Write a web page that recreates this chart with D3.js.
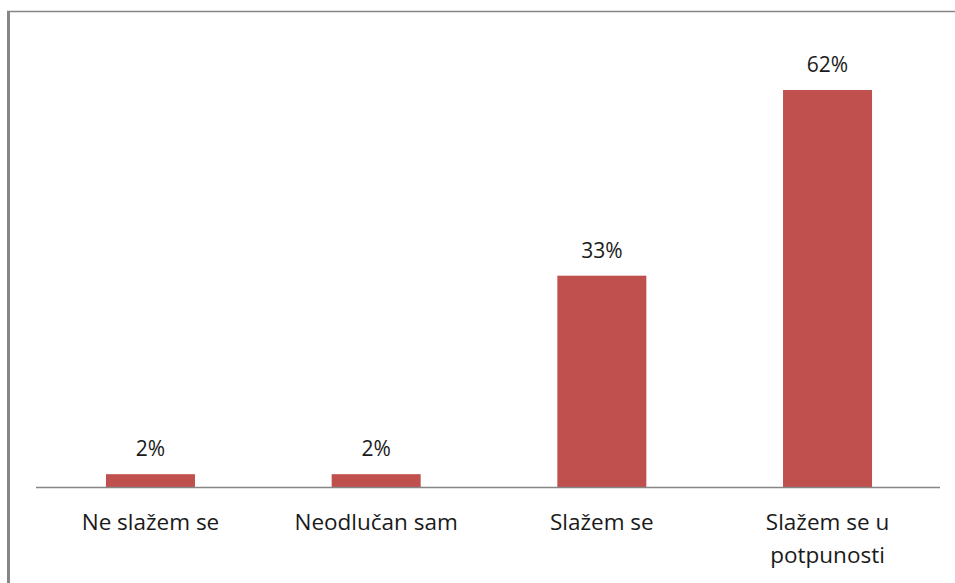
<!DOCTYPE html>
<html>
<head>
<meta charset="utf-8">
<script src="https://cdn.jsdelivr.net/npm/d3@7"></script>
<style>
  body { margin: 0; background: #fff; }
  text { font-family: "Open Sans", Lato, sans-serif; fill: #1a1a1a; }
</style>
</head>
<body>
<svg id="chart"></svg>
<script>
// Data
const categories = ["Ne slažem se", "Neodlučan sam", "Slažem se", "Slažem se u potpunosti"];
const values = [2, 2, 33, 62];
const valueLabels = ["2%", "2%", "33%", "62%"];

const W = 955, H = 583;
const margin = { top: 11, right: 15, bottom: 96, left: 36 };

const root = d3.select("#chart").attr("width", W).attr("height", H);

// outer frame (top + left only visible)
root.append("line").attr("x1", 7).attr("x2", W).attr("y1", 11.5).attr("y2", 11.5)
  .attr("stroke", "#868686").attr("stroke-width", 1.5);
root.append("line").attr("x1", 8.5).attr("x2", 8.5).attr("y1", 11).attr("y2", H)
  .attr("stroke", "#868686").attr("stroke-width", 3);

const svg = root.append("g").attr("transform", `translate(${margin.left},${margin.top})`);

const x = d3.scaleBand().domain(categories).range([0, 906]).paddingInner(0.6056).paddingOuter(0.31);
const y = d3.scaleLinear().domain([0, 62]).range([476, 79]);

svg.selectAll(".bar")
  .data(values)
  .enter()
  .append("rect")
  .attr("class", "bar")
  .attr("x", (d, i) => x(categories[i]))
  .attr("y", (d) => y(d))
  .attr("width", x.bandwidth())
  .attr("height", (d) => y(0) - y(d))
  .attr("fill", "#c0504d");

// value labels
svg.selectAll(".val")
  .data(values)
  .enter()
  .append("text")
  .attr("class", "val")
  .attr("x", (d, i) => x(categories[i]) + x.bandwidth() / 2)
  .attr("y", (d) => y(d) - 18)
  .attr("text-anchor", "middle")
  .style("font-size", "21px")
  .text((d, i) => valueLabels[i]);

// x axis
const axis = svg.append("g")
  .attr("transform", `translate(0,${y(0)})`)
  .call(d3.axisBottom(x).tickSize(0).tickPadding(0).tickFormat(""));
axis.select(".domain").attr("stroke", "#868686").attr("stroke-width", 1.5).attr("d", "M0,0.5H904");

// category labels, wrapped like the original
const lines = [["Ne slažem se"], ["Neodlučan sam"], ["Slažem se"], ["Slažem se u", "potpunosti"]];
svg.selectAll(".cat")
  .data(categories)
  .enter()
  .append("text")
  .attr("class", "cat")
  .attr("text-anchor", "middle")
  .style("font-size", "22.5px")
  .attr("transform", (d) => `translate(${x(d) + x.bandwidth() / 2},${y(0) + 43})`)
  .each(function (d, i) {
    lines[i].forEach((l, j) => {
      d3.select(this).append("tspan").attr("x", 0).attr("dy", j === 0 ? 0 : 33).text(l);
    });
  });
</script>
</body>
</html>
